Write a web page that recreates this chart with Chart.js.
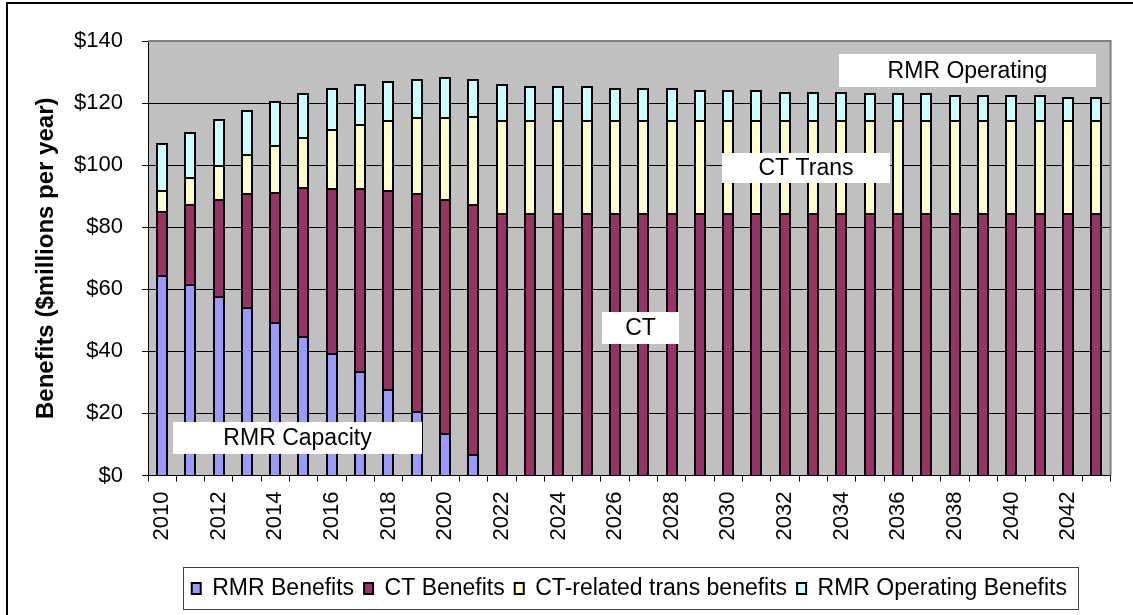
<!DOCTYPE html>
<html>
<head>
<meta charset="utf-8">
<script src="https://cdn.jsdelivr.net/npm/chart.js@4/dist/chart.umd.min.js"></script>
<style>
  html, body { margin: 0; padding: 0; background: #ffffff; }
  #wrap { width: 1133px; height: 615px; position: relative; }
  canvas { display: block; }
</style>
</head>
<body>
<div id="wrap"><canvas id="c" width="1133" height="615"></canvas></div>
<script>
// ---------------- DATA ----------------
const years = ['2010','2011','2012','2013','2014','2015','2016','2017','2018','2019',
               '2020','2021','2022','2023','2024','2025','2026','2027','2028','2029',
               '2030','2031','2032','2033','2034','2035','2036','2037','2038','2039',
               '2040','2041','2042','2043'];

const rmrBenefits = [64.7, 61.8, 57.7, 54.3, 49.5, 44.8, 39.6, 33.8, 27.9, 20.9,
                     13.8, 6.8, 0, 0, 0, 0, 0, 0, 0, 0,
                     0, 0, 0, 0, 0, 0, 0, 0, 0, 0,
                     0, 0, 0, 0];

const ctBenefits = [20.4, 25.8, 31.5, 36.6, 42.0, 48.0, 53.1, 58.9, 64.2, 70.0,
                    75.4, 80.7, 84.7, 84.7, 84.7, 84.7, 84.7, 84.7, 84.7, 84.7,
                    84.7, 84.7, 84.7, 84.7, 84.7, 84.7, 84.7, 84.7, 84.7, 84.7,
                    84.7, 84.7, 84.7, 84.7];

const ctTransBenefits = [6.9, 8.7, 11.0, 12.8, 15.1, 16.2, 18.8, 20.4, 22.3, 24.5,
                         26.2, 28.4, 29.7, 29.7, 29.7, 29.7, 29.7, 29.7, 29.7, 29.7,
                         29.7, 29.7, 29.7, 29.7, 29.7, 29.7, 29.7, 29.7, 29.7, 29.7,
                         29.7, 29.7, 29.7, 29.7];

const rmrOperatingBenefits = [15.2, 14.5, 14.7, 14.2, 14.2, 14.2, 13.3, 12.9, 12.7, 12.3,
                              12.9, 11.8, 11.7, 11.1, 11.1, 11.1, 10.4, 10.4, 10.4, 9.9,
                              9.9, 9.9, 9.3, 9.3, 9.3, 8.7, 8.7, 8.7, 8.1, 8.1,
                              8.1, 8.1, 7.5, 7.5];

const seriesNames = ['RMR Benefits', 'CT Benefits', 'CT-related trans benefits', 'RMR Operating Benefits'];
const yAxisTitle = 'Benefits ($millions per year)';
const yMin = 0, yMax = 140, yStep = 20;

// text call-outs placed on the plot (category-index / value units)
const calloutTexts = ['RMR Capacity', 'CT', 'CT Trans', 'RMR Operating'];
const calloutBoxes = [
  {x0: 0.40,  x1: 9.19,  y0: 6.8,   y1: 17.2},
  {x0: 15.54, x1: 18.24, y0: 42.3,  y1: 52.7},
  {x0: 19.79, x1: 25.70, y0: 94.2,  y1: 104.0},
  {x0: 23.90, x1: 33.00, y0: 125.3, y1: 135.7}
];

// ---------------- STYLE ----------------
const FONT = "'Liberation Sans', Arial, sans-serif";
const colors = ['#9999FF', '#993366', '#FFFFCC', '#CCFFFF'];
const PLOT_LEFT = 148, PLOT_BOTTOM = 475.5, LEGEND_TOP = 567;

Chart.defaults.font.family = FONT;
Chart.defaults.color = '#000000';

const seriesValues = [rmrBenefits, ctBenefits, ctTransBenefits, rmrOperatingBenefits];

const datasets = seriesValues.map((vals, i) => ({
  label: seriesNames[i],
  data: vals,
  backgroundColor: colors[i],
  borderColor: '#000000',
  borderWidth: 2,
  borderSkipped: 'start',
  inflateAmount: 0,
  barPercentage: 0.44,
  categoryPercentage: 1.0
}));

const decorPlugin = {
  id: 'decor',
  afterDatasetsUpdate(chart) {
    // snap the library-computed bar rectangles to whole pixels for crisp outlines
    chart.getSortedVisibleDatasetMetas().forEach(meta => {
      meta.data.forEach(el => {
        const w = Math.round(el.width);
        const left = Math.round(el.x - el.width / 2);
        el.width = w;
        el.x = left + w / 2;
        el.y = Math.round(el.y);
        el.base = Math.round(el.base);
      });
    });
  },
  beforeDraw(chart) {
    const {ctx, chartArea: a} = chart;
    ctx.save();
    ctx.fillStyle = '#ffffff';
    ctx.fillRect(0, 0, chart.width, chart.height);
    ctx.fillStyle = '#C0C0C0';
    ctx.fillRect(a.left, a.top, a.right - a.left, a.bottom - a.top);
    ctx.restore();
    // centre legend under plot area
    const lg = chart.legend;
    lg.left = a.left;
    lg.right = a.right;
  },
  afterDatasetsDraw(chart) {
    const {ctx, chartArea: a, scales} = chart;
    ctx.save();
    // grey plot frame top and right
    ctx.strokeStyle = '#808080';
    ctx.lineWidth = 2;
    ctx.beginPath();
    ctx.moveTo(a.left, a.top);
    ctx.lineTo(a.right, a.top);
    ctx.lineTo(a.right, a.bottom);
    ctx.stroke();
    // call-out boxes
    ctx.font = '23px ' + FONT;
    ctx.textAlign = 'center';
    ctx.textBaseline = 'middle';
    calloutBoxes.forEach((b, i) => {
      const l = Math.round(scales.x.getPixelForValue(b.x0));
      const r = Math.round(scales.x.getPixelForValue(b.x1));
      const t = Math.round(scales.y.getPixelForValue(b.y1));
      const bt = Math.round(scales.y.getPixelForValue(b.y0));
      ctx.fillStyle = '#ffffff';
      ctx.fillRect(l, t, r - l, bt - t);
      ctx.fillStyle = '#000000';
      ctx.fillText(calloutTexts[i], (l + r) / 2, (t + bt) / 2 + 1);
    });
    ctx.restore();
  },
  afterDraw(chart) {
    const {ctx} = chart;
    const lg = chart.legend;
    const pad = lg.options.labels.padding;
    const lw = lg.lineWidths[0];
    const startX = (lg.left + pad + lg.right - lw) / 2;
    ctx.save();
    ctx.strokeStyle = '#404040';
    ctx.lineWidth = 1;
    ctx.strokeRect(Math.round(startX - 9) + 0.5, Math.round(lg.top) + 0.5,
                   Math.round(lw - pad + 20), Math.round(lg.bottom - lg.top - 1));
    // outer chart frame (left and top edges visible)
    ctx.strokeStyle = '#000000';
    ctx.lineWidth = 2;
    ctx.beginPath();
    ctx.moveTo(7, chart.height + 2);
    ctx.lineTo(7, 3);
    ctx.lineTo(chart.width + 2, 3);
    ctx.stroke();
    ctx.restore();
  }
};

new Chart(document.getElementById('c'), {
  type: 'bar',
  data: { labels: years, datasets },
  plugins: [decorPlugin],
  options: {
    responsive: false,
    devicePixelRatio: 1,
    animation: false,
    layout: { padding: { left: 10, right: 10, top: 41, bottom: 5 } },
    plugins: {
      tooltip: { enabled: false },
      legend: {
        position: 'bottom',
        labels: {
          font: { size: 23, family: FONT },
          color: '#000000',
          boxWidth: 9,
          boxHeight: 11,
          padding: 10
        }
      }
    },
    scales: {
      x: {
        stacked: true,
        grid: { display: true, drawOnChartArea: false, drawTicks: true, tickLength: 6, color: '#000000', offset: true },
        border: { display: true, color: '#000000', width: 1 },
        ticks: {
          autoSkip: false,
          minRotation: 90,
          maxRotation: 90,
          padding: 10,
          font: { size: 22, family: FONT },
          color: '#000000',
          callback: function (val, idx) { return idx % 2 === 0 ? years[idx] : ''; }
        },
        afterFit(scale) { scale.height = LEGEND_TOP - PLOT_BOTTOM; }
      },
      y: {
        stacked: true,
        min: yMin,
        max: yMax,
        grid: { color: '#000000', lineWidth: 1, tickLength: 6, drawTicks: true },
        border: { display: true, color: '#000000', width: 1 },
        ticks: {
          stepSize: yStep,
          padding: 19,
          font: { size: 22, family: FONT },
          color: '#000000',
          callback: v => '$' + v
        },
        title: {
          display: true,
          text: yAxisTitle,
          font: { size: 24, weight: 'bold', family: FONT },
          color: '#000000',
          padding: { top: 22, bottom: 0 }
        },
        afterFit(scale) { scale.width = PLOT_LEFT - 10; }
      }
    }
  }
});
</script>
</body>
</html>
